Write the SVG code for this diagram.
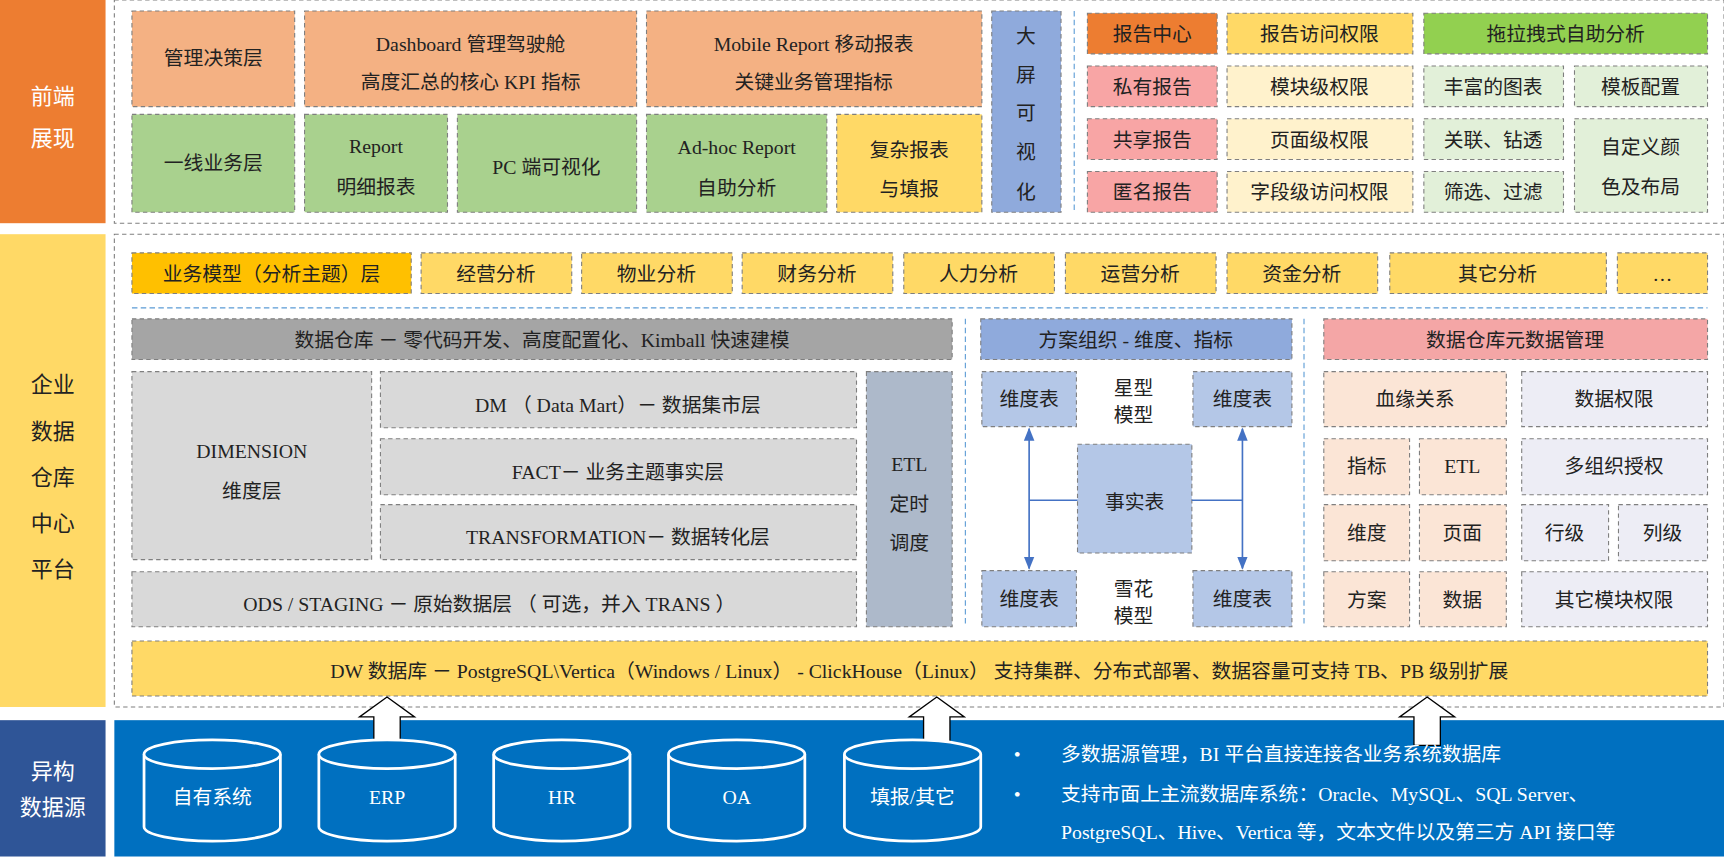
<svg xmlns="http://www.w3.org/2000/svg" width="1724" height="857" viewBox="0 0 1724 857">
<style>
text{font-family:"Liberation Serif","Noto Sans CJK SC",serif;font-size:18px;fill:#222;text-anchor:middle;dominant-baseline:central}
.b{stroke:#7f7f7f;stroke-width:1;stroke-dasharray:4 3}
.w{fill:#fff}
.lt{fill:#fff;font-size:20px}
.bl{fill:#fff;text-anchor:start}
.cy{fill:#0070C0;stroke:#fff;stroke-width:2.5}
.ln{stroke:#4472C4;stroke-width:1.5;fill:none}
.sep{stroke:#5B9BD5;stroke-width:1;stroke-dasharray:5 3}
</style>
<defs>
<marker id="ar" viewBox="0 0 10 10" refX="9" refY="5" markerWidth="8" markerHeight="8" orient="auto-start-reverse"><path d="M0,1 L10,5 L0,9 z" fill="#4472C4"/></marker>
</defs>
<g transform="scale(1.0995)">
<rect width="1568" height="779" fill="#fff"/>
<g id="left">
<rect x="0" y="0" width="96" height="203" fill="#ED7D31"/>
<text class="lt" x="48" y="88">前端</text><text class="lt" x="48" y="126">展现</text>
<rect x="0" y="213" width="96" height="430" fill="#FFD966"/>
<text x="48" y="350" style="font-size:20px">企业</text><text x="48" y="392" style="font-size:20px">数据</text><text x="48" y="434" style="font-size:20px">仓库</text><text x="48" y="476" style="font-size:20px">中心</text><text x="48" y="518" style="font-size:20px">平台</text>
<rect x="0" y="655" width="96" height="124" fill="#2F5597"/>
<text class="lt" x="48" y="702">异构</text><text class="lt" x="48" y="734">数据源</text>
</g>
<rect x="104" y="0" width="1464" height="203" fill="none" class="b"/>
<rect x="104" y="213" width="1464" height="430" fill="none" class="b"/>
<rect x="104" y="655" width="1464" height="124" fill="#0070C0"/>

<g id="top">
<rect class="b" x="120" y="10" width="148" height="87" fill="#F4B183"/><text x="194" y="53">管理决策层</text>
<rect class="b" x="277" y="10" width="302" height="87" fill="#F4B183"/><text x="428" y="40">Dashboard 管理驾驶舱</text><text x="428" y="75">高度汇总的核心 KPI 指标</text>
<rect class="b" x="588" y="10" width="305" height="87" fill="#F4B183"/><text x="740" y="40">Mobile Report 移动报表</text><text x="740" y="75">关键业务管理指标</text>
<rect class="b" x="902" y="10" width="63" height="183" fill="#8FAADC"/><text x="933" y="33">大</text><text x="933" y="68">屏</text><text x="933" y="103">可</text><text x="933" y="138">视</text><text x="933" y="175">化</text>
<rect class="b" x="120" y="104" width="148" height="89" fill="#A9D18E"/><text x="194" y="148">一线业务层</text>
<rect class="b" x="277" y="104" width="130" height="89" fill="#A9D18E"/><text x="342" y="133">Report</text><text x="342" y="170">明细报表</text>
<rect class="b" x="416" y="104" width="163" height="89" fill="#A9D18E"/><text x="497" y="152">PC 端可视化</text>
<rect class="b" x="588" y="104" width="164" height="89" fill="#A9D18E"/><text x="670" y="134">Ad-hoc Report</text><text x="670" y="171">自助分析</text>
<rect class="b" x="761" y="104" width="132" height="89" fill="#FFD966"/><text x="827" y="136">复杂报表</text><text x="827" y="172">与填报</text>
<line x1="977" y1="10" x2="977" y2="193" class="sep"/>
<rect class="b" x="989" y="12" width="118" height="37" fill="#ED7D31"/><text x="1048" y="31">报告中心</text>
<rect class="b" x="1116" y="12" width="169" height="37" fill="#FFD966"/><text x="1200" y="31">报告访问权限</text>
<rect class="b" x="1295" y="12" width="258" height="37" fill="#92D050"/><text x="1424" y="31">拖拉拽式自助分析</text>
<rect class="b" x="989" y="60" width="118" height="37" fill="#F8A5A5"/><text x="1048" y="79">私有报告</text>
<rect class="b" x="989" y="108" width="118" height="37" fill="#F8A5A5"/><text x="1048" y="127">共享报告</text>
<rect class="b" x="989" y="156" width="118" height="37" fill="#F8A5A5"/><text x="1048" y="175">匿名报告</text>
<rect class="b" x="1116" y="60" width="169" height="37" fill="#FFF2CC"/><text x="1200" y="79">模块级权限</text>
<rect class="b" x="1116" y="108" width="169" height="37" fill="#FFF2CC"/><text x="1200" y="127">页面级权限</text>
<rect class="b" x="1116" y="156" width="169" height="37" fill="#FFF2CC"/><text x="1200" y="175">字段级访问权限</text>
<rect class="b" x="1295" y="60" width="127" height="37" fill="#E2F0D9"/><text x="1358" y="79">丰富的图表</text>
<rect class="b" x="1432" y="60" width="121" height="37" fill="#E2F0D9"/><text x="1492" y="79">模板配置</text>
<rect class="b" x="1295" y="108" width="127" height="37" fill="#E2F0D9"/><text x="1358" y="127">关联、钻透</text>
<rect class="b" x="1295" y="156" width="127" height="37" fill="#E2F0D9"/><text x="1358" y="175">筛选、过滤</text>
<rect class="b" x="1432" y="108" width="121" height="85" fill="#E2F0D9"/><text x="1492" y="134">自定义颜</text><text x="1492" y="170">色及布局</text>
</g>

<g id="middle">
<rect class="b" x="120" y="230" width="254" height="37" fill="#FFC000"/><text x="247" y="249">业务模型（分析主题）层</text>
<rect class="b" x="383" y="230" width="137" height="37" fill="#FFD966"/><text x="451" y="249">经营分析</text>
<rect class="b" x="529" y="230" width="137" height="37" fill="#FFD966"/><text x="597" y="249">物业分析</text>
<rect class="b" x="675" y="230" width="137" height="37" fill="#FFD966"/><text x="743" y="249">财务分析</text>
<rect class="b" x="822" y="230" width="137" height="37" fill="#FFD966"/><text x="890" y="249">人力分析</text>
<rect class="b" x="969" y="230" width="137" height="37" fill="#FFD966"/><text x="1037" y="249">运营分析</text>
<rect class="b" x="1116" y="230" width="137" height="37" fill="#FFD966"/><text x="1184" y="249">资金分析</text>
<rect class="b" x="1264" y="230" width="197" height="37" fill="#FFD966"/><text x="1362" y="249">其它分析</text>
<rect class="b" x="1471" y="230" width="82" height="37" fill="#FFD966"/><text x="1512" y="249">…</text>
<line x1="120" y1="280" x2="1553" y2="280" class="sep"/>
<rect class="b" x="120" y="290" width="746" height="37" fill="#A5A5A5"/><text x="493" y="309">数据仓库 － 零代码开发、高度配置化、Kimball 快速建模</text>
<rect class="b" x="120" y="338" width="218" height="171" fill="#D9D9D9"/><text x="229" y="410">DIMENSION</text><text x="229" y="447">维度层</text>
<rect class="b" x="346" y="338" width="433" height="51" fill="#D9D9D9"/><text x="562" y="368">DM （ Data Mart）－ 数据集市层</text>
<rect class="b" x="346" y="399" width="433" height="51" fill="#D9D9D9"/><text x="562" y="429">FACT－ 业务主题事实层</text>
<rect class="b" x="346" y="459" width="433" height="50" fill="#D9D9D9"/><text x="562" y="488">TRANSFORMATION－ 数据转化层</text>
<rect class="b" x="120" y="520" width="659" height="50" fill="#D9D9D9"/><text x="445" y="549">ODS / STAGING － 原始数据层 （ 可选，并入 TRANS ）</text>
<rect class="b" x="788" y="338" width="78" height="232" fill="#ADB9CA"/><text x="827" y="422">ETL</text><text x="827" y="458">定时</text><text x="827" y="494">调度</text>
<line x1="878" y1="290" x2="878" y2="570" class="sep"/>
<line x1="1186" y1="290" x2="1186" y2="570" class="sep"/>
<rect class="b" x="892" y="290" width="283" height="37" fill="#8FAADC"/><text x="1033" y="309">方案组织 - 维度、指标</text>
<rect class="b" x="893" y="338" width="86" height="50" fill="#B4C7E7"/><text x="936" y="363">维度表</text>
<rect class="b" x="1085" y="338" width="90" height="50" fill="#B4C7E7"/><text x="1130" y="363">维度表</text>
<text x="1031" y="353">星型</text><text x="1031" y="377">模型</text>
<rect class="b" x="980" y="404" width="104" height="99" fill="#B4C7E7"/><text x="1032" y="457">事实表</text>
<rect class="b" x="893" y="519" width="86" height="51" fill="#B4C7E7"/><text x="936" y="545">维度表</text>
<rect class="b" x="1085" y="519" width="90" height="51" fill="#B4C7E7"/><text x="1130" y="545">维度表</text>
<text x="1031" y="536">雪花</text><text x="1031" y="560">模型</text>
<rect class="b" x="1204" y="290" width="349" height="37" fill="#F4A6A6"/><text x="1378" y="309">数据仓库元数据管理</text>
<rect class="b" x="1204" y="338" width="166" height="50" fill="#FBE5D6"/><text x="1287" y="363">血缘关系</text>
<rect class="b" x="1384" y="338" width="169" height="50" fill="#EDEDF5"/><text x="1468" y="363">数据权限</text>
<rect class="b" x="1204" y="399" width="78" height="51" fill="#FBE5D6"/><text x="1243" y="424">指标</text>
<rect class="b" x="1291" y="399" width="79" height="51" fill="#FBE5D6"/><text x="1330" y="424">ETL</text>
<rect class="b" x="1384" y="399" width="169" height="51" fill="#EDEDF5"/><text x="1468" y="424">多组织授权</text>
<rect class="b" x="1204" y="459" width="78" height="51" fill="#FBE5D6"/><text x="1243" y="485">维度</text>
<rect class="b" x="1291" y="459" width="79" height="51" fill="#FBE5D6"/><text x="1330" y="485">页面</text>
<rect class="b" x="1384" y="459" width="79" height="51" fill="#EDEDF5"/><text x="1423" y="485">行级</text>
<rect class="b" x="1472" y="459" width="81" height="51" fill="#EDEDF5"/><text x="1512" y="485">列级</text>
<rect class="b" x="1204" y="520" width="78" height="50" fill="#FBE5D6"/><text x="1243" y="546">方案</text>
<rect class="b" x="1291" y="520" width="79" height="50" fill="#FBE5D6"/><text x="1330" y="546">数据</text>
<rect class="b" x="1384" y="520" width="169" height="50" fill="#EDEDF5"/><text x="1468" y="546">其它模块权限</text>
<rect class="b" x="120" y="583" width="1433" height="50" fill="#FFD966"/><text x="836" y="610">DW 数据库 － PostgreSQL\Vertica（Windows / Linux） - ClickHouse（Linux） 支持集群、分布式部署、数据容量可支持 TB、PB 级别扩展</text>
</g>

<g id="connectors">
<line x1="936" y1="390" x2="936" y2="517" class="ln" marker-start="url(#ar)" marker-end="url(#ar)"/>
<line x1="936" y1="455" x2="980" y2="455" class="ln"/>
<line x1="1130" y1="390" x2="1130" y2="517" class="ln" marker-start="url(#ar)" marker-end="url(#ar)"/>
<line x1="1084" y1="455" x2="1130" y2="455" class="ln"/>
<path d="M352,634 L377,652 L364,652 L364,678 L340,678 L340,652 L327,652 Z" fill="#fff" stroke="#000" stroke-width="1.2"/>
<path d="M852,634 L877,652 L864,652 L864,678 L840,678 L840,652 L827,652 Z" fill="#fff" stroke="#000" stroke-width="1.2"/>
<path d="M1298,634 L1323,652 L1310,652 L1310,678 L1286,678 L1286,652 L1273,652 Z" fill="#fff" stroke="#000" stroke-width="1.2"/>
</g>

<g id="sources">
<g id="src1"><path class="cy" d="M131,686 L131,752 A62,13 0 0 0 255,752 L255,686"/><ellipse class="cy" cx="193" cy="686" rx="62" ry="13"/><text class="w" x="193" y="725">自有系统</text></g>
<g id="src2"><path class="cy" d="M290,686 L290,752 A62,13 0 0 0 414,752 L414,686"/><ellipse class="cy" cx="352" cy="686" rx="62" ry="13"/><text class="w" x="352" y="725">ERP</text></g>
<g id="src3"><path class="cy" d="M449,686 L449,752 A62,13 0 0 0 573,752 L573,686"/><ellipse class="cy" cx="511" cy="686" rx="62" ry="13"/><text class="w" x="511" y="725">HR</text></g>
<g id="src4"><path class="cy" d="M608,686 L608,752 A62,13 0 0 0 732,752 L732,686"/><ellipse class="cy" cx="670" cy="686" rx="62" ry="13"/><text class="w" x="670" y="725">OA</text></g>
<g id="src5"><path class="cy" d="M768,686 L768,752 A62,13 0 0 0 892,752 L892,686"/><ellipse class="cy" cx="830" cy="686" rx="62" ry="13"/><text class="w" x="830" y="725">填报/其它</text></g>
<text class="bl" x="922" y="686">•</text><text class="bl" x="965" y="686">多数据源管理，BI 平台直接连接各业务系统数据库</text>
<text class="bl" x="922" y="722">•</text><text class="bl" x="965" y="722">支持市面上主流数据库系统：Oracle、MySQL、SQL Server、</text>
<text class="bl" x="965" y="757">PostgreSQL、Hive、Vertica 等，文本文件以及第三方 API 接口等</text>
</g>
</g>
</svg>
